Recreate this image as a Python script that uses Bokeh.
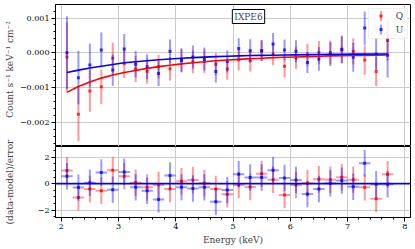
import numpy as np
from bokeh.plotting import figure
from bokeh.layouts import column, row
from bokeh.models import (ColumnDataSource, Range1d, SingleIntervalTicker,
                          CustomJSTickFormatter, Span, Label, BoxAnnotation)
from bokeh.embed import file_html
from bokeh.resources import INLINE

# ---------------- data ----------------
energy = [2.1, 2.3, 2.5, 2.7, 2.9, 3.1, 3.3, 3.5, 3.7, 3.9, 4.1, 4.3, 4.5, 4.7, 4.9,
          5.1, 5.3, 5.5, 5.7, 5.9, 6.1, 6.3, 6.5, 6.7, 6.9, 7.1, 7.3, 7.5, 7.7]
bin_half_width = 0.1
milli = 1e-3  # values below read in units of 1e-3 Count s^-1 keV^-1 cm^-2

q_rate = [-0.12, -1.77, -1.10, -0.98, -0.16, -0.31, -0.47, -0.53, -0.40, -0.46, -0.21, -0.26, -0.25, -0.33, -0.47,
          -0.20, -0.23, 0.06, -0.04, -0.39, -0.15, -0.07, 0.01, 0.01, 0.08, 0.04, -0.21, -0.54, 0.35]
q_err = [1.00, 0.77, 0.60, 0.50, 0.45, 0.42, 0.38, 0.36, 0.34, 0.34, 0.34, 0.33, 0.33, 0.32, 0.31,
         0.31, 0.31, 0.30, 0.31, 0.32, 0.32, 0.32, 0.33, 0.34, 0.38, 0.38, 0.42, 0.42, 0.58]
u_rate = [0.00, -0.72, -0.35, 0.08, -0.50, 0.11, -0.33, -0.40, -0.60, 0.04, -0.23, -0.12, -0.18, -0.54, -0.25,
          0.12, 0.06, 0.06, 0.25, 0.08, 0.04, -0.28, -0.18, -0.04, 0.10, -0.13, 0.71, -0.04, -0.07]
u_err = [1.05, 0.77, 0.62, 0.50, 0.45, 0.43, 0.38, 0.36, 0.36, 0.34, 0.34, 0.33, 0.33, 0.32, 0.32,
         0.30, 0.33, 0.30, 0.32, 0.30, 0.32, 0.30, 0.34, 0.34, 0.40, 0.42, 0.48, 0.45, 0.64]
q_model = [-1.14, -0.97, -0.84, -0.73, -0.64, -0.57, -0.51, -0.45, -0.40, -0.36, -0.32, -0.29, -0.26, -0.23, -0.21,
           -0.19, -0.17, -0.16, -0.14, -0.13, -0.12, -0.11, -0.10, -0.09, -0.085, -0.08, -0.075, -0.07, -0.065]
u_model = [-0.57, -0.50, -0.44, -0.39, -0.34, -0.29, -0.26, -0.23, -0.20, -0.18, -0.16, -0.14, -0.125, -0.11, -0.10,
           -0.09, -0.08, -0.075, -0.07, -0.065, -0.06, -0.055, -0.05, -0.047, -0.044, -0.04, -0.038, -0.036, -0.034]
q_resid = [0.99, -1.04, -0.40, -0.53, 1.01, 0.56, 0.07, -0.28, -0.10, -0.40, 0.18, 0.28, 0.03, -0.40, -0.81,
           -0.10, -0.25, 0.74, 0.30, -0.86, -0.10, 0.03, 0.33, 0.30, 0.48, 0.30, -0.28, -1.14, 0.71]
u_resid = [0.56, -0.30, 0.07, 0.84, -0.46, 0.89, -0.28, -0.53, -1.19, 0.61, -0.28, -0.36, -0.28, -1.37, -0.48,
           0.71, 0.46, 0.46, 1.01, 0.43, 0.28, -0.79, -0.40, 0.03, 0.23, -0.23, 1.54, -0.05, -0.05]
resid_err = 1.0

series = [("Q", "#ff0000", q_rate, q_err, q_model, q_resid),
          ("U", "#0000ff", u_rate, u_err, u_model, u_resid)]

FONT = "DejaVu Serif"
E = np.array(energy)

x_range = Range1d(1.9, 8.1)


def style_axis(ax, size="8px"):
    ax.axis_line_color = "black"
    ax.major_tick_line_color = "black"
    ax.minor_tick_line_color = "black"
    ax.major_tick_in = 0
    ax.major_tick_out = 4
    ax.minor_tick_in = 0
    ax.minor_tick_out = 2
    ax.major_label_text_font = FONT
    ax.major_label_text_font_size = size
    ax.major_label_text_color = "black"
    ax.major_label_standoff = 2
    ax.axis_label_text_font = FONT
    ax.axis_label_text_font_size = "9px"
    ax.axis_label_text_font_style = "normal"
    ax.axis_label_standoff = 3


# ---------------- top panel ----------------
top = figure(width=397, height=146, x_range=x_range, y_range=Range1d(-0.0027, 0.00139),
             output_backend="svg", toolbar_location=None, x_axis_location=None,
             min_border_left=37, min_border_right=3, min_border_top=4, min_border_bottom=0)
top.outline_line_color = "black"
top.outline_line_alpha = 1
top.yaxis.ticker = SingleIntervalTicker(interval=0.001, num_minor_ticks=5)
top.yaxis.formatter = CustomJSTickFormatter(
    code="return (tick < -1e-9 ? '\u2212' : '') + Math.abs(tick).toFixed(3);")
style_axis(top.yaxis[0])
top.xgrid.ticker = SingleIntervalTicker(interval=1)
top.grid.grid_line_color = "#cccccc"

for name, col, rate, err, model, _ in series:
    r = np.array(rate) * milli
    e = np.array(err) * milli
    src = ColumnDataSource(dict(x=E, y=r, lo=r - e, hi=r + e))
    top.segment(x0="x", y0="lo", x1="x", y1="hi", source=src,
                line_color=col, line_width=2, line_alpha=0.4)
    top.scatter(x="x", y="y", source=src, marker="square", size=3,
                fill_color=col, line_color=None, fill_alpha=0.75)
for name, col, rate, err, model, _ in series:
    top.line(E, np.array(model) * milli, line_color=col, line_width=1.6)

# IXPE6 label
top.add_layout(Label(x=193, y=130, x_units="screen", y_units="screen", text="IXPE6",
                     text_font=FONT, text_font_size="9px", text_align="center",
                     text_baseline="middle", border_line_color="black",
                     border_line_width=1, background_fill_color="white", padding=2))

# legend (drawn manually to mimic matplotlib errorbar handles)
top.add_layout(BoxAnnotation(left=313, right=352, top=138, bottom=108,
                             left_units="screen", right_units="screen",
                             top_units="screen", bottom_units="screen",
                             fill_color="white", fill_alpha=0.85,
                             line_color="#cccccc", line_width=1))
for i, (name, col, *_rest) in enumerate(series):
    yc = 130.5 - 13.6 * i
    top.add_layout(BoxAnnotation(left=324.5, right=326.5, top=yc + 5, bottom=yc - 5,
                                 left_units="screen", right_units="screen",
                                 top_units="screen", bottom_units="screen",
                                 fill_color=col, fill_alpha=0.4, line_color=None))
    top.add_layout(BoxAnnotation(left=324, right=327, top=yc + 1.5, bottom=yc - 1.5,
                                 left_units="screen", right_units="screen",
                                 top_units="screen", bottom_units="screen",
                                 fill_color=col, fill_alpha=0.8, line_color=None))
    top.add_layout(Label(x=344, y=yc, x_units="screen", y_units="screen", text=name,
                         text_font=FONT, text_font_size="9px", text_align="center",
                         text_baseline="middle"))

# ---------------- bottom panel ----------------
bot = figure(width=397, height=101, x_range=x_range, y_range=Range1d(-2.56, 2.81),
             output_backend="svg", toolbar_location=None,
             min_border_left=37, min_border_right=3, min_border_top=0, min_border_bottom=30)
bot.outline_line_color = "black"
bot.outline_line_alpha = 1
bot.xaxis.ticker = SingleIntervalTicker(interval=1, num_minor_ticks=5)
bot.yaxis.ticker = SingleIntervalTicker(interval=2, num_minor_ticks=4)
bot.yaxis.formatter = CustomJSTickFormatter(
    code="return tick < 0 ? '\u2212' + Math.abs(tick).toFixed(0) : tick.toFixed(0);")
bot.xaxis.axis_label = "Energy (keV)"
style_axis(bot.xaxis[0])
style_axis(bot.yaxis[0])
bot.grid.grid_line_color = "#cccccc"

for name, col, rate, err, model, resid in series:
    rr = np.array(resid)
    src = ColumnDataSource(dict(x=E, y=rr, lo=rr - resid_err, hi=rr + resid_err,
                                x0=E - bin_half_width, x1=E + bin_half_width))
    bot.segment(x0="x", y0="lo", x1="x", y1="hi", source=src,
                line_color=col, line_width=2, line_alpha=0.4)
    bot.segment(x0="x0", y0="y", x1="x1", y1="y", source=src,
                line_color=col, line_width=2, line_alpha=0.4)
    bot.scatter(x="x", y="y", source=src, marker="square", size=3,
                fill_color=col, line_color=None, fill_alpha=0.75)
bot.add_layout(Span(location=0, dimension="width", line_color="#0000ff", line_width=1.6))

# ---------------- y-axis titles ----------------
lab = figure(width=16, height=247, x_range=Range1d(0, 1), y_range=Range1d(0, 1),
             output_backend="svg", toolbar_location=None,
             x_axis_location=None, y_axis_location=None,
             min_border_left=0, min_border_right=0, min_border_top=0, min_border_bottom=0)
lab.outline_line_color = None
lab.grid.visible = False
lab.add_layout(Label(x=9, y=178, x_units="screen", y_units="screen",
                     text="Count s\u207b\u00b9 keV\u207b\u00b9 cm\u207b\u00b2", angle=90, angle_units="deg",
                     text_font=FONT, text_font_size="9px", text_align="center",
                     text_baseline="middle"))
lab.add_layout(Label(x=9, y=65.5, x_units="screen", y_units="screen",
                     text="(data-model)/error", angle=90, angle_units="deg",
                     text_font=FONT, text_font_size="9px", text_align="center",
                     text_baseline="middle"))

layout = row(lab, column(top, bot))
open("out.html", "w").write(file_html(layout, INLINE))
